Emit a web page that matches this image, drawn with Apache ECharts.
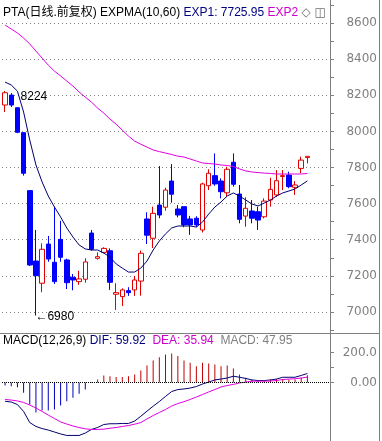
<!DOCTYPE html>
<html><head><meta charset="utf-8">
<script src="https://cdn.jsdelivr.net/npm/echarts@6/dist/echarts.min.js"></script>
<style>html,body{margin:0;padding:0;background:#fff}#c{width:382px;height:441px}</style>
</head><body><div id="c"></div>
<script>
// 50 trading days plus 3 empty slots on the right
const days = [1,2,3,4,5,6,7,8,9,10,11,12,13,14,15,16,17,18,19,20,21,22,23,24,25,26,27,28,29,30,31,32,33,34,35,36,37,38,39,40,41,42,43,44,45,46,47,48,49,50,51,52,53];
// [open, close, low, high]
const candles = [
 [8146,8214,8107,8224],[8201,8146,8135,8212],[8131,7995,7990,8135],[7993,7768,7755,7995],
 [7672,7260,7255,7675],[7282,7201,6980,7454],[7159,7347,7109,7380],[7376,7293,7278,7421],
 [7275,7168,7155,7583],[7402,7303,7278,7505],[7288,7162,7127,7295],[7192,7177,7120,7210],
 [7168,7183,7150,7228],[7181,7277,7162,7297],[7437,7347,7340,7454],[7297,7306,7290,7330],
 [7330,7352,7325,7358],[7339,7164,7122,7352],[7098,7107,7011,7159],[7085,7122,7033,7131],
 [7118,7107,7089,7137],[7122,7177,7089,7199],[7171,7325,7090,7340],[7515,7425,7376,7552],
 [7408,7546,7354,7583],[7592,7537,7519,7808],[7580,7675,7561,7688],[7725,7652,7605,7819],
 [7570,7537,7524,7592],[7583,7482,7469,7583],[7515,7482,7427,7532],[7519,7482,7470,7530],
 [7454,7709,7440,7716],[7699,7768,7675,7790],[7755,7709,7699,7878],[7725,7666,7629,7740],
 [7660,7790,7638,7804],[7829,7707,7694,7878],[7653,7513,7491,7703],[7531,7574,7472,7635],
 [7559,7519,7491,7620],[7555,7509,7454,7583],[7527,7614,7518,7629],[7620,7679,7583,7743],
 [7648,7727,7638,7786],[7750,7755,7675,7786],[7758,7694,7685,7777],[7690,7703,7648,7725],
 [7795,7841,7768,7860],[7855,7862,7823,7862]
];
const exp1 = [8273,8257,8223,8107,7952,7814,7720,7642,7581,7526,7465,7415,7371,7349,7343,7343,7326,7304,7266,7243,7221,7221,7243,7282,7343,7393,7432,7465,7476,7476,7476,7470,7498,7542,7581,7609,7642,7659,7642,7620,7598,7587,7603,7620,7642,7659,7670,7681,7703,7725.95];
const exp2 = [8589,8567,8545,8517,8484,8445,8406,8367,8334,8307,8279,8251,8218,8190,8162,8129,8101,8068,8040,8007,7974,7946,7929,7913,7897,7888,7880,7872,7863,7858,7847,7836,7825,7822,7819,7814,7811,7806,7792,7781,7775,7772,7769,7767,7764,7764,7764,7764,7764,7767];
const dif = [-125,-130,-147,-193,-267,-293,-307,-317,-330,-343,-353,-353,-353,-337,-313,-300,-280,-275,-275,-273,-273,-257,-225,-191,-158,-127,-93,-60,-47,-43,-37,-27,-10,3,17,23,30,42,35,27,17,13,13,17,23,35,35,35,47,59.92];
const dea = [-113,-117,-123,-133,-150,-170,-193,-217,-240,-263,-277,-290,-300,-309,-313,-313,-311,-305,-300,-293,-287,-278,-267,-243,-220,-200,-180,-157,-140,-128,-113,-97,-80,-63,-47,-30,-20,-13,-3,3,9,9,9,10,13,20,23,25,30,35.94];
const macd = [-20,-25,-31,-69,-147,-200,-187,-187,-180,-153,-125,-102,-75,-47,-4,20,47,42,36,36,42,53,80,113,147,169,187,193,176,147,131,109,131,127,120,109,113,93,53,31,20,16,13,20,24,24,20,20,31,47.95];
const macdTicks = [0,100,200];
const macdLabels = [0,200];

const FONT = "'Liberation Sans', Arial, 'Noto Sans CJK SC', sans-serif";
const AXF = "'DejaVu Sans', sans-serif";
function rs(color, fam) {
  return {color:color, fontSize:12, fontFamily:fam || FONT, fontWeight:'normal', lineHeight:14};
}
const chart = echarts.init(document.getElementById('c'), null, {renderer:'canvas'});
chart.setOption({
  animation:false,
  backgroundColor:'#fff',
  title:[
    {left:3, top:6, padding:0,
     text:'{a|PTA(日线.前复权) EXPMA(10,60)} {b|EXP1: 7725.95} {c|EXP2} {d|◇ ◫}',
     textStyle:{fontWeight:'normal', fontSize:12, rich:{
       a:rs('#000'), b:rs('#000080'), c:rs('#cc00cc'), d:rs('#707070', "'DejaVu Sans'")
     }}},
    {left:3, top:334, padding:0,
     text:'{a|MACD(12,26,9)} {b|DIF: 59.92}  {c|DEA: 35.94}  {d|MACD: 47.95}',
     textStyle:{fontWeight:'normal', fontSize:12, rich:{
       a:rs('#000'), b:rs('#000080'), c:rs('#cc00cc'), d:rs('#808080')
     }}}
  ],
  grid:[
    {left:2, top:5, width:327, height:325},
    {left:2, top:333, width:327, height:108}
  ],
  xAxis:[
    {type:'category', gridIndex:0, data:days, show:false},
    {type:'category', gridIndex:1, data:days, show:false}
  ],
  yAxis:[
    {type:'value', gridIndex:0, position:'right', offset:1, min:6900, max:8700, interval:100,
     axisLine:{show:false},
     axisTick:{show:true, length:4, lineStyle:{color:'#808080'}},
     axisLabel:{margin:47, align:'right', color:'#808080', fontSize:12, fontFamily:AXF,
       formatter:v => (v % 200 === 0 ? String(v) : '')},
     splitLine:{show:true, lineStyle:{color:['rgba(0,0,0,0)','#808080'], width:1, type:[1,3]}}},
    {type:'value', gridIndex:1, position:'right', offset:1, min:-390, max:330,
     axisLine:{show:false},
     axisTick:{show:true, length:4, customValues:macdTicks, lineStyle:{color:'#808080'}},
     axisLabel:{margin:47, align:'right', color:'#808080', fontSize:12, fontFamily:AXF, customValues:macdLabels,
       formatter:v => (v === 200 ? '200.0' : (v === 0 ? '0.00' : ''))},
     splitLine:{show:false}}
  ],
  series:[
    {type:'candlestick', xAxisIndex:0, yAxisIndex:0, data:candles, barWidth:5,
     itemStyle:{color:'#ffffff', color0:'#0000ff', borderColor:'#e00000', borderColor0:'#0000ff', borderWidth:1},
     markPoint:{symbol:'circle', symbolSize:1, itemStyle:{color:'rgba(0,0,0,0)'}, silent:true,
       data:[
         {coord:[0, 8224], label:{show:true, position:'right', distance:0, offset:[15,6], formatter:'8224', color:'#000', fontSize:12, fontFamily:FONT}},
         {coord:[5, 6980], label:{show:true, position:'right', distance:0, offset:[-1,1], formatter:'←6980', color:'#000', fontSize:12, fontFamily:FONT}}
       ]}},
    {type:'line', xAxisIndex:0, yAxisIndex:0, data:exp1, symbol:'none', lineStyle:{color:'#000070', width:1}},
    {type:'line', xAxisIndex:0, yAxisIndex:0, data:exp2, symbol:'none', lineStyle:{color:'#e000e0', width:1}},
    {type:'bar', xAxisIndex:1, yAxisIndex:1, data:macd, barWidth:1,
     itemStyle:{color:p => (p.value >= 0 ? '#c00000' : '#0000c0')},
     markLine:{silent:true, symbol:'none', label:{show:false},
       lineStyle:{color:'#000', width:1, type:[1,1]}, data:[{yAxis:0}]}},
    {type:'line', xAxisIndex:1, yAxisIndex:1, data:dif, symbol:'none', lineStyle:{color:'#000070', width:1}},
    {type:'line', xAxisIndex:1, yAxisIndex:1, data:dea, symbol:'none', lineStyle:{color:'#e000e0', width:1}}
  ],
  graphic:[
    {type:'line', silent:true, shape:{x1:330.5,y1:0,x2:330.5,y2:441}, style:{stroke:'#808080', lineWidth:1}},
    {type:'line', silent:true, shape:{x1:379.5,y1:0,x2:379.5,y2:441}, style:{stroke:'#808080', lineWidth:1}},
    {type:'line', silent:true, shape:{x1:0,y1:333.5,x2:380,y2:333.5}, style:{stroke:'#808080', lineWidth:1}}
  ]
});
</script></body></html>
